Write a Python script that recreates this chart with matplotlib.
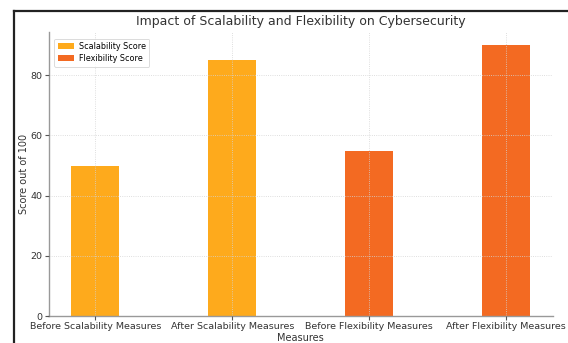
import matplotlib
matplotlib.use("Agg")
import matplotlib.pyplot as plt
from matplotlib.lines import Line2D

measures = ["Before Scalability Measures", "After Scalability Measures",
            "Before Flexibility Measures", "After Flexibility Measures"]
scalability_scores = [50, 85]
flexibility_scores = [55, 90]

SCALE_COLOR = "#FEAA1C"
FLEX_COLOR = "#F36A22"

fig = plt.figure(figsize=(5.68, 3.43), dpi=100)
ax = fig.add_axes([48.5 / 568, 1 - 316 / 343, (552.7 - 48.5) / 568, (316 - 31.7) / 343])

width = 0.35
ax.bar([0, 1], scalability_scores, width, color=SCALE_COLOR, label="Scalability Score")
ax.bar([2, 3], flexibility_scores, width, color=FLEX_COLOR, label="Flexibility Score")

ax.set_xticks(range(len(measures)))
ax.set_xticklabels(measures)
ax.set_yticks([0, 20, 40, 60, 80])

ax.set_axisbelow(False)
ax.grid(True, linestyle=":", linewidth=0.6, color="#d4d4d4")

for side in ("top", "right"):
    ax.spines[side].set_visible(False)
for side in ("left", "bottom"):
    ax.spines[side].set_color("#999999")
    ax.spines[side].set_linewidth(1.0)
ax.tick_params(colors="#555555", labelcolor="#333333", labelsize=6.8, length=3, width=0.8, pad=1.5)

ax.set_title("Impact of Scalability and Flexibility on Cybersecurity",
             fontsize=9.0, color="#333333", pad=5)
ax.set_xlabel("Measures", fontsize=7, color="#333333", labelpad=1)
ax.set_ylabel("Score out of 100", fontsize=7, color="#333333", labelpad=1)

leg = ax.legend(loc="upper left", fontsize=5.8, frameon=True, borderpad=0.45,
                labelspacing=0.35, handlelength=2.0, handleheight=0.8,
                handletextpad=0.6, bbox_to_anchor=(0.003, 0.99))
leg.get_frame().set_edgecolor("#cccccc")
leg.get_frame().set_linewidth(0.6)

# dark frame along the top and left edges
fig.add_artist(Line2D([14 / 568, 1], [1 - 10.5 / 343, 1 - 10.5 / 343],
                      transform=fig.transFigure, color="#222222", linewidth=1.6))
fig.add_artist(Line2D([14 / 568, 14 / 568], [0, 1 - 10.5 / 343],
                      transform=fig.transFigure, color="#222222", linewidth=1.6))

fig.savefig("out.png", dpi=100)
